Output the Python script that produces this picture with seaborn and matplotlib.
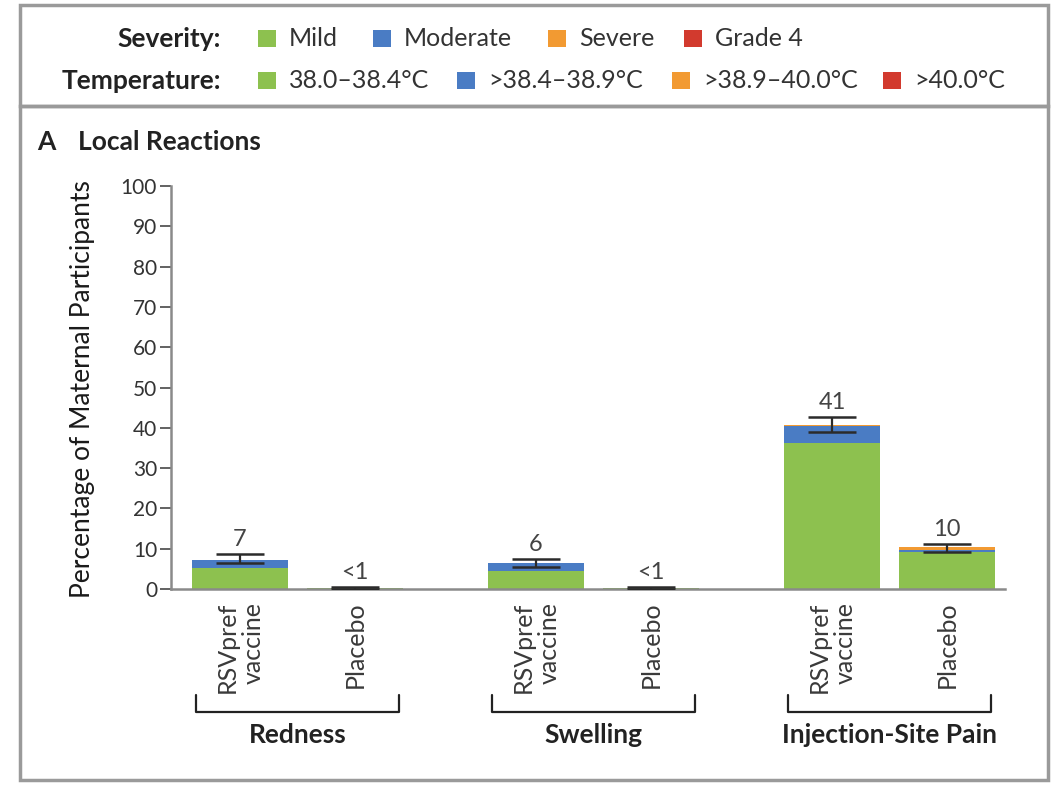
import matplotlib
matplotlib.use("Agg")
import matplotlib.pyplot as plt
import matplotlib.transforms as mtransforms
from matplotlib.patches import Rectangle
import numpy as np
import pandas as pd
import seaborn as sns

# Data (percent of maternal participants)
groups = ["Redness", "Swelling", "Injection-Site Pain"]
arms = ["RSVpref\nvaccine", "Placebo"]
mild = [5.2, 0.2, 4.5, 0.2, 36.2, 9.3]
moderate = [2.1, 0.0, 1.9, 0.0, 4.2, 0.5]
severe = [0.0, 0.0, 0.0, 0.0, 0.3, 0.5]
grade4 = [0.0, 0.0, 0.0, 0.0, 0.0, 0.0]
ci_low = [6.4, 0.0, 5.5, 0.0, 39.0, 9.2]
ci_high = [8.6, 0.4, 7.4, 0.4, 42.6, 11.2]
value_labels = ["7", "<1", "6", "<1", "41", "10"]

severity_names = ["Mild", "Moderate", "Severe", "Grade 4"]
temp_names = ["38.0\u201338.4\u00b0C", ">38.4\u201338.9\u00b0C", ">38.9\u201340.0\u00b0C", ">40.0\u00b0C"]
colors = ["#8dc14f", "#4a7cc4", "#f29a32", "#d23a2e"]

sns.set_style("ticks")
plt.rcParams["font.family"] = ["Lato", "DejaVu Sans"]

W, H = 1053, 788
fig = plt.figure(figsize=(W / 100, H / 100), dpi=100)

def fx(x):
    return x / W

def fy(y):
    return 1 - y / H

# bar positions: two arms per group
group_step = 2.574
pos = [g * group_step + a for g in range(len(groups)) for a in range(len(arms))]

df = pd.DataFrame({"pos": pos, "mild": mild, "moderate": moderate,
                   "severe": severe, "grade4": grade4})
df["c1"] = df["mild"]
df["c2"] = df["c1"] + df["moderate"]
df["c3"] = df["c2"] + df["severe"]
df["c4"] = df["c3"] + df["grade4"]

ax = fig.add_axes([fx(171), fy(589), (1005 - 171) / W, (589 - 186) / H])

# stacked bars: draw the cumulative layers from the top down
for col, c in zip(["c4", "c3", "c2", "c1"], colors[::-1]):
    sns.barplot(data=df, x="pos", y=col, native_scale=True, width=0.83,
                color=c, saturation=1, errorbar=None, linewidth=0, ax=ax)

total = df["c4"].values
yerr = [np.clip(total - np.array(ci_low), 0, None), np.clip(np.array(ci_high) - total, 0, None)]
ax.errorbar(pos, total, yerr=yerr, fmt="none", ecolor="#2b2b2b", elinewidth=1.6,
            capsize=17, capthick=1.8, zorder=5)

for p, hi, lab in zip(pos, ci_high, value_labels):
    ax.annotate(lab, (p, hi), xytext=(0, 3), textcoords="offset points",
                ha="center", va="bottom", fontsize=17, color="#444444")

ax.set_xlim(-0.6, 6.652)
ax.set_ylim(0, 100)
ax.set_yticks(range(0, 101, 10))
ax.set_xticks(pos)
ax.set_xticklabels(arms * len(groups), rotation=90, fontsize=18, color="#3a3a3a",
                   multialignment="right", linespacing=1.15)
ax.tick_params(axis="x", length=0, pad=9)
ax.tick_params(axis="y", length=8, width=1.3, color="#555555", labelsize=15,
               labelcolor="#333333", pad=2)
ax.set_xlabel("")
ax.set_ylabel("")
sns.despine(ax=ax)
for s in ["left", "bottom"]:
    ax.spines[s].set_color("#8a8a8a")
    ax.spines[s].set_linewidth(1.8)

# group brackets and names
trans = mtransforms.blended_transform_factory(ax.transData, fig.transFigure)
for g, name in enumerate(groups):
    x0 = pos[2 * g] - 0.385
    x1 = pos[2 * g + 1] + 0.385
    ax.plot([x0, x0, x1, x1], [fy(695), fy(712), fy(712), fy(695)], color="#222222",
            lw=1.6, transform=trans, clip_on=False)
    ax.text((x0 + x1) / 2, fy(735), name, transform=trans, ha="center", va="center",
            fontsize=19, fontweight="bold", color="#222222")

fig.text(fx(83), fy(389), "Percentage of Maternal Participants", rotation=90,
         ha="center", va="center", fontsize=19, color="#1a1a1a")

# panel title
fig.text(fx(37), fy(142), "A", ha="left", va="center", fontsize=19, fontweight="bold", color="#222222")
fig.text(fx(78), fy(142), "Local Reactions", ha="left", va="center", fontsize=19,
         fontweight="bold", color="#222222")

# legend box
rows = [("Severity:", 39, severity_names, [258, 373, 548, 684]),
        ("Temperature:", 81, temp_names, [258, 457, 672, 883])]
for head, y, names, xs in rows:
    fig.text(fx(221), fy(y), head, ha="right", va="center", fontsize=19,
             fontweight="bold", color="#222222")
    for x, name, c in zip(xs, names, colors):
        fig.add_artist(Rectangle((fx(x), fy(y + 8)), 18 / W, 17 / H, transform=fig.transFigure,
                                 facecolor=c, edgecolor="none"))
        fig.text(fx(x + 31), fy(y), name, ha="left", va="center", fontsize=18, color="#333333")

# frames around legend and panel
frame_kw = dict(transform=fig.transFigure, facecolor="none", edgecolor="#9a9a9a", linewidth=2.5)
fig.add_artist(Rectangle((fx(20), fy(106)), (1048 - 20) / W, (106 - 5) / H, **frame_kw))
fig.add_artist(Rectangle((fx(20), fy(780)), (1048 - 20) / W, (780 - 106) / H, **frame_kw))

fig.savefig("out.png", dpi=100)
